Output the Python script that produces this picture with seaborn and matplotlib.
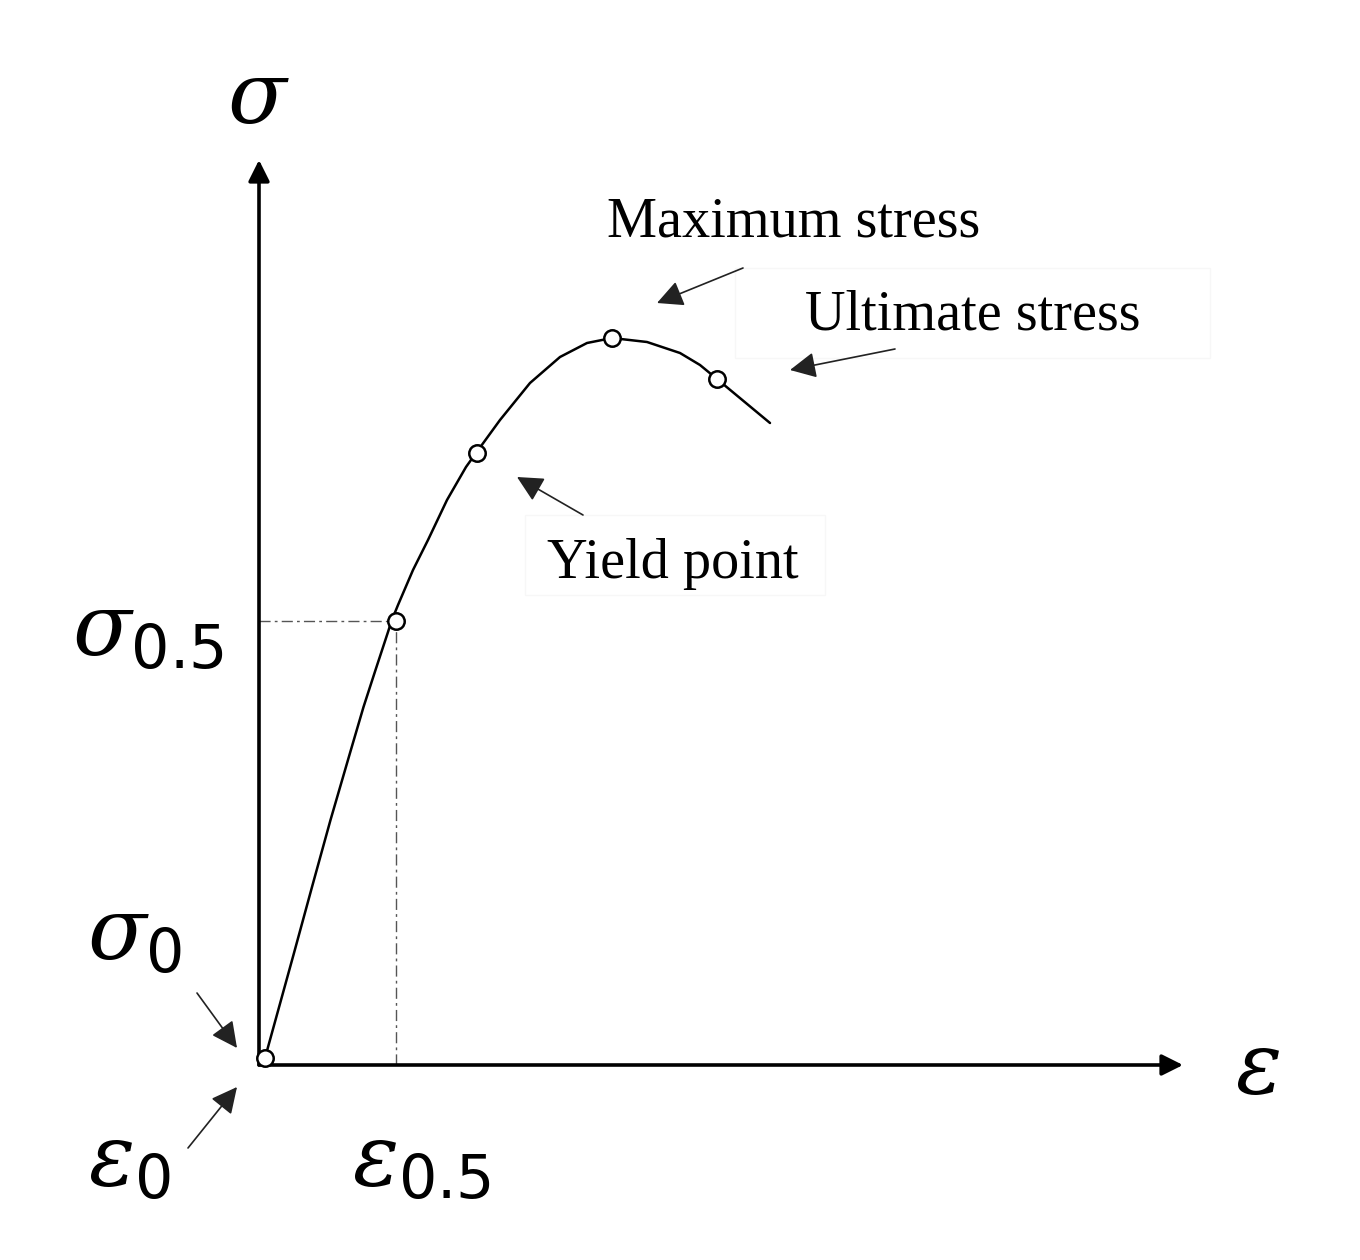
import matplotlib
matplotlib.use("Agg")
import matplotlib.pyplot as plt
import seaborn as sns
import pandas as pd
from matplotlib.patches import Rectangle

# ---- data (strain / stress in arbitrary units) ----
curve_strain = [0.00, 0.29, 0.47, 0.655, 0.85, 0.985, 1.105, 1.23, 1.265, 1.33,
                1.48, 1.63, 1.82, 2.01, 2.11, 2.35, 2.65, 2.95, 3.22, 3.47, 3.82,
                4.15, 4.35, 4.52, 5.05]
curve_stress = [0.00, 1.05, 1.71, 2.38, 3.05, 3.51, 3.88, 4.26, 4.37, 4.53,
                4.88, 5.18, 5.58, 5.91, 6.05, 6.38, 6.75, 7.01, 7.15, 7.20, 7.16,
                7.05, 6.93, 6.79, 6.35]
point_strain = [0.00, 1.31, 2.12, 3.47, 4.52]
point_stress = [0.00, 4.37, 6.05, 7.20, 6.79]
eps05 = 1.31
sig05 = 4.37

sns.set_theme(style="white")
plt.rcParams["mathtext.fontset"] = "custom"
plt.rcParams["mathtext.it"] = "DejaVu Serif:italic"
plt.rcParams["mathtext.rm"] = "DejaVu Sans"
plt.rcParams["text.color"] = "black"

fig = plt.figure(figsize=(13.6, 12.6), dpi=100)
ax = fig.add_axes([0, 0, 1, 1])
ax.set_xlim(-2.65, 10.95)
ax.set_ylim(-2.02, 10.58)
ax.axis("off")

df_curve = pd.DataFrame({"strain": curve_strain, "stress": curve_stress})
df_pts = pd.DataFrame({"strain": point_strain, "stress": point_stress})

# axes with arrows
ax.annotate("", xy=(-0.06, 8.98), xytext=(-0.06, -0.07),
            arrowprops=dict(arrowstyle="-|>", lw=2.6, color="black",
                            mutation_scale=32, shrinkA=0, shrinkB=0))
ax.annotate("", xy=(9.18, -0.07), xytext=(-0.06, -0.07),
            arrowprops=dict(arrowstyle="-|>", lw=2.6, color="black",
                            mutation_scale=32, shrinkA=0, shrinkB=0))

# dash-dot guide lines
ax.plot([-0.06, eps05], [sig05, sig05], color="#555555", lw=1.0,
        dashes=(8, 3, 2, 3))
ax.plot([eps05, eps05], [-0.07, sig05], color="#555555", lw=1.0,
        dashes=(8, 3, 2, 3))

# curve and points
sns.lineplot(data=df_curve, x="strain", y="stress", sort=False, color="black",
             lw=1.8, ax=ax, zorder=3, solid_joinstyle="round")
sns.scatterplot(data=df_pts, x="strain", y="stress", s=140, facecolor="white",
                edgecolor="black", linewidth=1.8, ax=ax, zorder=4)
ax.axis("off")

# very faint boxes behind labels
ax.add_patch(Rectangle((4.70, 7.00), 4.75, 0.90, fill=False, ec="#f7f7f7", lw=1))
ax.add_patch(Rectangle((2.60, 4.63), 3.00, 0.80, fill=False, ec="#f7f7f7", lw=1))

# annotations
serif = "Liberation Serif"
tfs = 40.5
ax.text(3.42, 8.21, "Maximum stress", family=serif, fontsize=tfs, va="baseline",
        color="black")
ax.text(5.40, 7.28, "Ultimate stress", family=serif, fontsize=tfs, va="baseline",
        color="black")
ax.text(2.82, 4.80, "Yield point", family=serif, fontsize=tfs, va="baseline",
        color="black")

arrow_kw = dict(arrowstyle="-|>", lw=1.2, color="#222222", mutation_scale=40,
                shrinkA=0, shrinkB=0)
ax.annotate("", xy=(3.92, 7.55), xytext=(4.78, 7.90), arrowprops=arrow_kw)
ax.annotate("", xy=(5.25, 6.88), xytext=(6.30, 7.09), arrowprops=arrow_kw)
ax.annotate("", xy=(2.52, 5.81), xytext=(3.18, 5.43), arrowprops=arrow_kw)
ax.annotate("", xy=(-0.28, 0.10), xytext=(-0.68, 0.65), arrowprops=arrow_kw)
ax.annotate("", xy=(-0.28, -0.29), xytext=(-0.77, -0.90), arrowprops=arrow_kw)

# greek labels
gfs = 62
ax.text(-0.38, 9.35, r"$\sigma$", fontsize=gfs, va="baseline", ha="left", color="black")
ax.text(-1.93, 4.03, r"$\sigma_{0.5}$", fontsize=gfs, va="baseline", ha="left", color="black")
ax.text(-1.78, 0.98, r"$\sigma_{0}$", fontsize=gfs, va="baseline", ha="left", color="black")
ax.text(-1.77, -1.27, r"$\varepsilon_{0}$", fontsize=gfs, va="baseline", ha="left", color="black")
ax.text(0.87, -1.27, r"$\varepsilon_{0.5}$", fontsize=gfs, va="baseline", ha="left", color="black")
ax.text(9.70, -0.35, r"$\varepsilon$", fontsize=gfs, va="baseline", ha="left", color="black")

fig.savefig("out.png", dpi=100, facecolor="white")
